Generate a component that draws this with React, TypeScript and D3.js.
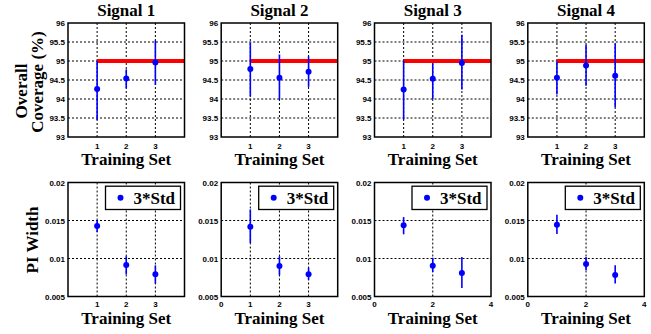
import React from "react";
import * as d3 from "d3";

const signals = ["Signal 1", "Signal 2", "Signal 3", "Signal 4"];
const trainingSets = [1, 2, 3];

const coverageMean = [
  [94.26, 94.54, 94.96],
  [94.79, 94.56, 94.72],
  [94.25, 94.53, 94.95],
  [94.56, 94.88, 94.61],
];
const coverageLow = [
  [93.45, 94.28, 94.37],
  [94.07, 93.99, 94.32],
  [93.46, 94.0, 94.25],
  [94.12, 94.35, 93.78],
];
const coverageHigh = [
  [95.0, 94.78, 95.54],
  [95.49, 95.17, 95.12],
  [95.0, 94.94, 95.69],
  [94.99, 95.43, 95.46],
];

const widthMean = [
  [0.01427, 0.00915, 0.00793],
  [0.01418, 0.00902, 0.00793],
  [0.01436, 0.00906, 0.0081],
  [0.01444, 0.00928, 0.00784],
];
const widthLow = [
  [0.01348, 0.0079, 0.0067],
  [0.01204, 0.0078, 0.0072],
  [0.01318, 0.00823, 0.00613],
  [0.01322, 0.00845, 0.0067],
];
const widthHigh = [
  [0.015, 0.0103, 0.0091],
  [0.01646, 0.0103, 0.0088],
  [0.01545, 0.0101, 0.0102],
  [0.01576, 0.0102, 0.0091],
];

const targetCoverage = 95;
const coverageTicks = [93, 93.5, 94, 94.5, 95, 95.5, 96];
const coverageTickLabels = ["93", "93.5", "94", "94.5", "95", "95.5", "96"];
const widthTicks = [0.005, 0.01, 0.015, 0.02];
const widthTickLabels = ["0.005", "0.01", "0.015", "0.02"];
const topXTicks = [1, 2, 3];
const bottomXTicks = [[1, 2, 3], [0, 1, 2, 3], [0, 2, 4], [0, 2, 4]];
const bottomXGrid = [[1, 2, 3], [1, 2, 3], [2], [2]];
const legendLabel = "3*Std";

const panelLefts = [68, 221.2, 374.5, 527.8];
const panelW = 116.5;
const topY0 = 23, topY1 = 137;
const botY0 = 182.5, botY1 = 296.5;

const serif = "'Liberation Serif', 'Times New Roman', serif";
const sans = "'Liberation Sans', Arial, sans-serif";
const blue = "#0000ff";

function Panel({ i, top }: { i: number; top: boolean }) {
  const x0 = panelLefts[i];
  const y0 = top ? topY0 : botY0;
  const y1 = top ? topY1 : botY1;
  const x = d3.scaleLinear().domain([0, 4]).range([x0, x0 + panelW]);
  const y = top
    ? d3.scaleLinear().domain([93, 96]).range([y1, y0])
    : d3.scaleLinear().domain([0.005, 0.02]).range([y1, y0]);
  const yTicks = top ? coverageTicks : widthTicks;
  const yLabels = top ? coverageTickLabels : widthTickLabels;
  const xTicks = top ? topXTicks : bottomXTicks[i];
  const xGrid = top ? topXTicks : bottomXGrid[i];
  const mean = top ? coverageMean[i] : widthMean[i];
  const lo = top ? coverageLow[i] : widthLow[i];
  const hi = top ? coverageHigh[i] : widthHigh[i];
  const tickBase = top ? 149 : 306.5;
  const xLabelBase = top ? 165 : 323.5;
  const lx = x0 + panelW - 4 - 75;
  const ly = botY0 + 3.7;
  return (
    <g>
      <rect x={x0} y={y0} width={panelW} height={y1 - y0} fill="#fff" />
      {yTicks.slice(1, -1).map((t) => (
        <line key={"hg" + t} x1={x0} x2={x0 + panelW} y1={y(t)} y2={y(t)} stroke="#000" strokeWidth={1} strokeDasharray="2,2" />
      ))}
      {xGrid.map((t) => (
        <line key={"vg" + t} x1={x(t)} x2={x(t)} y1={y0} y2={y1} stroke="#000" strokeWidth={1} strokeDasharray="2,2" />
      ))}
      {top && (
        <line x1={x(1)} x2={x(4)} y1={y(targetCoverage)} y2={y(targetCoverage)} stroke="#ff0000" strokeWidth={4} />
      )}
      {trainingSets.map((c, k) => (
        <g key={"p" + k}>
          <line x1={x(c)} x2={x(c)} y1={y(lo[k])} y2={y(hi[k])} stroke={blue} strokeWidth={1.6} />
          <circle cx={x(c)} cy={y(mean[k])} r={3} fill={blue} />
        </g>
      ))}
      <rect x={x0} y={y0} width={panelW} height={y1 - y0} fill="none" stroke="#000" strokeWidth={1.5} />
      {yTicks.map((t, k) => (
        <text key={"yt" + t} x={x0 - 3} y={y(t) + 3} textAnchor="end" fontFamily={sans} fontWeight="bold" fontSize={8}>
          {yLabels[k]}
        </text>
      ))}
      {xTicks.map((t) => (
        <text key={"xt" + t} x={x(t)} y={tickBase} textAnchor="middle" fontFamily={sans} fontWeight="bold" fontSize={8}>
          {String(t)}
        </text>
      ))}
      <text x={x0 + panelW / 2} y={xLabelBase} textAnchor="middle" fontFamily={serif} fontWeight="bold" fontSize={17}>
        Training Set
      </text>
      {top && (
        <text x={x0 + panelW / 2} y={15.5} textAnchor="middle" fontFamily={serif} fontWeight="bold" fontSize={17}>
          {signals[i]}
        </text>
      )}
      {!top && (
        <g>
          <rect x={lx} y={ly} width={75} height={23.3} fill="#fff" stroke="#000" strokeWidth={1.3} />
          <circle cx={lx + 15} cy={ly + 11.5} r={3} fill={blue} />
          <text x={lx + 28} y={ly + 17.8} fontFamily={serif} fontWeight="bold" fontSize={17}>
            {legendLabel}
          </text>
        </g>
      )}
    </g>
  );
}

export default function App() {
  return (
    <div style={{ position: "absolute", left: 0, top: 0 }}>
      <svg width={651} height={334} style={{ display: "block", background: "#fff" }}>
        {signals.map((s, i) => (
          <g key={s}>
            <Panel i={i} top={true} />
            <Panel i={i} top={false} />
          </g>
        ))}
        <text transform="translate(26.5,91) rotate(-90)" textAnchor="middle" fontFamily={serif} fontWeight="bold" fontSize={17}>
          Overall
        </text>
        <text transform="translate(43,82) rotate(-90)" textAnchor="middle" fontFamily={serif} fontWeight="bold" fontSize={17}>
          Coverage (%)
        </text>
        <text transform="translate(37.5,240) rotate(-90)" textAnchor="middle" fontFamily={serif} fontWeight="bold" fontSize={17}>
          PI Width
        </text>
      </svg>
    </div>
  );
}
